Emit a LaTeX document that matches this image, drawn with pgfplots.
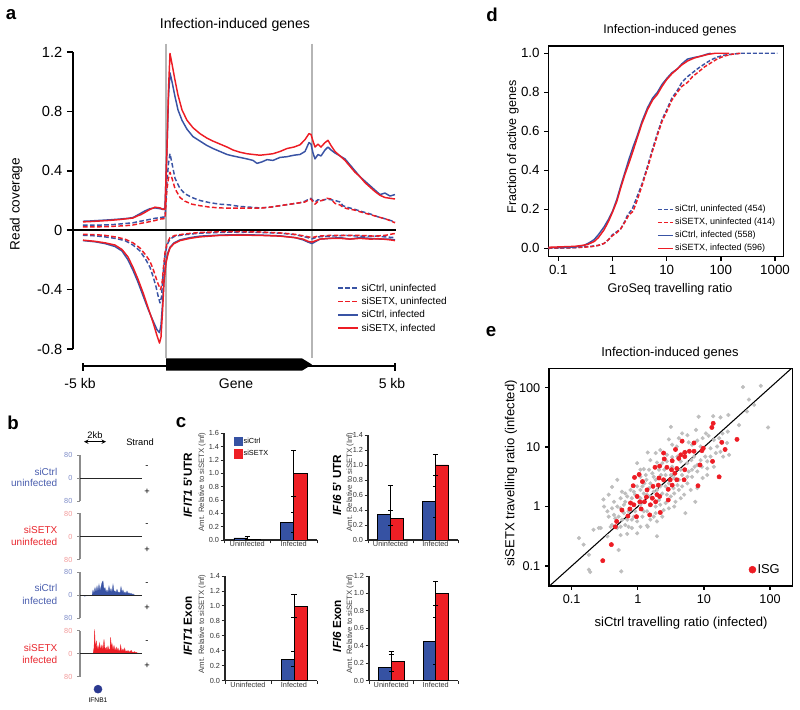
\documentclass[border=0pt]{standalone}
\usepackage{fontspec}
\setmainfont{Liberation Sans}
\usepackage{pgfplots}
\pgfplotsset{compat=1.18}
\pgfplotsset{/pgf/number format/assume math mode=true}
\definecolor{cblue}{HTML}{3953A4}
\definecolor{cred}{HTML}{ED1C24}
\definecolor{barblue}{HTML}{3652A3}
\definecolor{barred}{HTML}{EE1F25}
\definecolor{vgray}{HTML}{B5B5B5}
\definecolor{dotgray}{HTML}{BEBEBE}
\definecolor{lblue}{HTML}{7E8CC8}
\definecolor{lred}{HTML}{F29A9A}
\definecolor{tblue}{HTML}{4A5EAE}
\definecolor{tred}{HTML}{E8262D}
\definecolor{genebl}{HTML}{2B3990}
\newcommand{\fs}[1]{\fontsize{#1}{#1}\selectfont}
\pgfplotsset{
 pl/.style={line width=1.1pt, line join=round},
 dsh/.style={dash pattern=on 3.5pt off 1.8pt},
 eb/.style={error bars/y dir=both, error bars/y explicit, error bars/error bar style={black,line width=0.6pt}, error bars/error mark options={rotate=90,black,mark size=2pt,line width=0.6pt}},
 sq/.style={legend image code/.code={\fill[##1,draw=none] (0pt,-3.4pt) rectangle (6.8pt,3.4pt);}},
 bt/.style={scale only axis, width=46.5pt, height=34.5pt, xmin=80, xmax=142, ymin=-80, ymax=80,
   axis x line=none, axis y line=left, axis line style={-, black!45, line width=0.9pt},
   ytick={-80,0,80}, yticklabels={80,0,80}, tick align=outside, major tick length=2.2pt,
   tick style={black!45, line width=0.7pt}, clip=false},
 cb/.style={scale only axis, xmin=-0.5, xmax=1.5, ymin=0,
   axis x line*=bottom, axis y line*=left, axis line style={-, line width=0.8pt, black!85},
   xtick pos=left, ytick pos=left,
   xtick={-0.5,0.5,1.5}, xticklabels={,,}, extra x ticks={0,1}, extra x tick labels={Uninfected,Infected},
   extra x tick style={major tick length=0pt},
   tick align=outside, major tick length=2.5pt, tick style={black!85, line width=0.7pt},
   ticklabel style={font=\fs{5.5}, text=black!80, inner sep=1pt},
   yticklabel style={/pgf/number format/.cd, fixed, fixed zerofill, precision=1}},
 bb/.style={ybar, bar width=0.286, bar shift=-0.143, fill=barblue, draw=black, line width=0.5pt, eb, sq},
 br/.style={ybar, bar width=0.286, bar shift=0.143, fill=barred, draw=black, line width=0.5pt, eb, sq}
}
\begin{document}
\begin{tikzpicture}[x=0.75pt,y=0.75pt]
\path (0,0) rectangle (800,710);

% ---------------- panel letters and titles
\node[font=\fs{14}\bfseries] at (11,695) {a};
\node[font=\fs{14}\bfseries] at (13,287) {b};
\node[font=\fs{14}\bfseries] at (181,287) {c};
\node[font=\fs{14}\bfseries] at (492,695) {d};
\node[font=\fs{14}\bfseries] at (491,378) {e};
\node[font=\fs{10.6}] at (235,685) {Infection-induced genes};
\node[font=\fs{10.2},rotate=90] at (16,506) {Read coverage};

% ---------------- panel a
\begin{axis}[at={(54.75pt,270.75pt)}, anchor=south west, scale only axis, width=242.25pt, height=222.75pt,
  xmin=73, xmax=396, ymin=-0.8, ymax=1.2, axis x line=none, axis y line=left,
  axis line style={-,line width=1.1pt},
  ytick={-0.8,-0.4,0,0.4,0.8,1.2}, yticklabels={-0.8,-0.4,0,0.4,0.8,1.2},
  tick align=outside, major tick length=4.5pt, tick style={black,line width=1.1pt},
  yticklabel style={font=\fs{11}}, clip=false]
\draw[vgray,line width=1.1pt] (axis cs:166,1.257) -- (axis cs:166,-0.861);
\draw[vgray,line width=1.1pt] (axis cs:312,1.257) -- (axis cs:312,-0.861);
\draw[black,line width=1.1pt] (axis cs:73,0) -- (axis cs:396,0);
% sense strand
\addplot[pl,dsh,color=cblue] coordinates {(83,0.034) (95,0.034) (110,0.036) (125,0.045) (133,0.05) (140,0.06) (148,0.07) (155,0.08) (160,0.085) (165,0.09) (167,0.33) (168.5,0.45) (170,0.515) (172,0.45) (175,0.35) (180,0.28) (185,0.245) (192,0.22) (200,0.2) (210,0.185) (220,0.175) (230,0.17) (240,0.16) (250,0.155) (260,0.15) (270,0.155) (280,0.165) (290,0.175) (300,0.185) (305,0.195) (309,0.21) (311,0.215) (313,0.2) (315,0.19) (318,0.205) (322,0.2) (327,0.21) (331,0.205) (335,0.2) (340,0.19) (343,0.165) (347,0.155) (355,0.14) (362,0.125) (370,0.11) (378,0.09) (386,0.075) (395,0.056)};
\addplot[pl,dsh,color=cred] coordinates {(83,0.022) (95,0.022) (110,0.025) (125,0.03) (133,0.035) (140,0.045) (148,0.055) (155,0.065) (160,0.075) (165,0.078) (167,0.28) (168.5,0.35) (170,0.39) (172,0.35) (175,0.28) (180,0.22) (185,0.195) (192,0.175) (200,0.165) (210,0.155) (220,0.15) (230,0.148) (240,0.148) (250,0.148) (260,0.148) (270,0.155) (280,0.165) (290,0.175) (300,0.185) (305,0.19) (309,0.205) (311,0.21) (313,0.19) (315,0.175) (318,0.195) (322,0.2) (327,0.215) (331,0.21) (335,0.18) (340,0.17) (343,0.155) (347,0.145) (355,0.135) (362,0.12) (370,0.105) (378,0.09) (386,0.075) (395,0.05)};
\addplot[pl,color=cblue] coordinates {(83,0.06) (90,0.062) (100,0.066) (110,0.07) (120,0.075) (128,0.08) (133,0.085) (137,0.1) (141,0.115) (145,0.13) (150,0.145) (155,0.15) (160,0.145) (163,0.14) (165,0.15) (167,0.55) (168.5,0.9) (170,1.06) (172,1.0) (175,0.9) (178,0.81) (182,0.74) (187,0.68) (193,0.63) (200,0.6) (207,0.57) (213,0.55) (220,0.53) (227,0.51) (233,0.5) (240,0.49) (247,0.48) (253,0.47) (257,0.45) (262,0.46) (267,0.475) (273,0.47) (280,0.49) (287,0.495) (294,0.505) (300,0.51) (305,0.53) (309,0.59) (311,0.58) (313,0.52) (315,0.48) (318,0.51) (321,0.5) (325,0.54) (328,0.56) (331,0.54) (335,0.52) (340,0.5) (345,0.48) (350,0.44) (355,0.4) (360,0.36) (365,0.33) (370,0.3) (375,0.27) (380,0.24) (385,0.25) (390,0.23) (395,0.24)};
\addplot[pl,color=cred] coordinates {(83,0.056) (90,0.058) (100,0.062) (110,0.066) (120,0.072) (128,0.078) (133,0.082) (137,0.095) (141,0.105) (145,0.12) (150,0.14) (155,0.155) (160,0.15) (163,0.14) (165,0.14) (167,0.55) (168.5,0.95) (170,1.19) (172,1.12) (175,1.01) (178,0.91) (182,0.81) (187,0.74) (193,0.69) (200,0.65) (207,0.62) (213,0.6) (220,0.58) (227,0.56) (233,0.54) (240,0.525) (247,0.515) (253,0.51) (260,0.505) (267,0.51) (273,0.515) (280,0.53) (287,0.55) (294,0.56) (300,0.575) (305,0.61) (309,0.65) (311,0.645) (313,0.6) (315,0.56) (318,0.58) (321,0.56) (325,0.59) (328,0.605) (331,0.57) (335,0.53) (340,0.5) (345,0.47) (350,0.43) (355,0.39) (360,0.36) (365,0.32) (370,0.29) (375,0.26) (380,0.235) (385,0.22) (390,0.215) (395,0.21)};
% antisense strand
\addplot[pl,dsh,color=cblue] coordinates {(83,-0.034) (95,-0.038) (105,-0.045) (115,-0.055) (125,-0.07) (133,-0.1) (140,-0.14) (146,-0.2) (150,-0.25) (153,-0.31) (156,-0.38) (158,-0.44) (160,-0.49) (161.5,-0.45) (163,-0.3) (165,-0.17) (167,-0.1) (170,-0.06) (175,-0.04) (185,-0.03) (200,-0.02) (220,-0.015) (240,-0.012) (260,-0.015) (280,-0.02) (295,-0.03) (305,-0.045) (312,-0.058) (318,-0.045) (330,-0.04) (345,-0.035) (360,-0.04) (375,-0.04) (385,-0.045) (395,-0.05)};
\addplot[pl,dsh,color=cred] coordinates {(83,-0.028) (95,-0.03) (105,-0.035) (115,-0.045) (125,-0.06) (133,-0.085) (140,-0.12) (146,-0.17) (150,-0.21) (153,-0.26) (156,-0.32) (158,-0.36) (160.5,-0.4) (162,-0.36) (163.5,-0.25) (165,-0.15) (167,-0.09) (170,-0.05) (175,-0.035) (185,-0.025) (200,-0.015) (220,-0.01) (240,-0.01) (260,-0.012) (280,-0.018) (295,-0.028) (305,-0.04) (312,-0.05) (318,-0.04) (330,-0.035) (345,-0.035) (360,-0.035) (375,-0.04) (385,-0.035) (395,-0.022)};
\addplot[pl,color=cblue] coordinates {(83,-0.07) (95,-0.078) (105,-0.09) (115,-0.11) (122,-0.14) (128,-0.2) (133,-0.27) (138,-0.35) (143,-0.44) (148,-0.53) (153,-0.61) (157,-0.67) (159.5,-0.69) (161,-0.64) (162.5,-0.5) (164,-0.33) (166,-0.21) (168,-0.15) (170,-0.115) (174,-0.085) (180,-0.065) (190,-0.05) (200,-0.04) (220,-0.033) (240,-0.03) (260,-0.033) (280,-0.038) (295,-0.05) (303,-0.065) (308,-0.08) (312,-0.09) (316,-0.075) (320,-0.06) (330,-0.055) (340,-0.05) (350,-0.06) (360,-0.05) (370,-0.055) (380,-0.06) (390,-0.06) (395,-0.065)};
\addplot[pl,color=cred] coordinates {(83,-0.067) (95,-0.075) (105,-0.085) (115,-0.1) (122,-0.13) (128,-0.18) (133,-0.25) (138,-0.33) (143,-0.42) (148,-0.52) (153,-0.62) (157,-0.71) (159.5,-0.76) (161,-0.72) (162.5,-0.55) (164,-0.35) (166,-0.22) (168,-0.16) (170,-0.12) (174,-0.09) (180,-0.07) (190,-0.055) (200,-0.045) (220,-0.035) (240,-0.033) (260,-0.035) (280,-0.04) (295,-0.05) (303,-0.06) (308,-0.075) (312,-0.08) (316,-0.07) (320,-0.06) (330,-0.055) (340,-0.055) (350,-0.06) (360,-0.055) (370,-0.06) (380,-0.058) (390,-0.065) (395,-0.07)};
% legend of panel a
\draw[cblue,line width=1.1pt,dash pattern=on 3.5pt off 1.8pt] (axis cs:338,-0.390) -- (axis cs:358,-0.390);
\draw[cred,line width=1.1pt,dash pattern=on 3.5pt off 1.8pt] (axis cs:338,-0.481) -- (axis cs:358,-0.481);
\draw[cblue,line width=1.1pt] (axis cs:338,-0.571) -- (axis cs:358,-0.571);
\draw[cred,line width=1.1pt] (axis cs:338,-0.659) -- (axis cs:358,-0.659);
\node[anchor=west,font=\fs{7.5},inner sep=1pt] at (axis cs:360,-0.390) {siCtrl, uninfected};
\node[anchor=west,font=\fs{7.5},inner sep=1pt] at (axis cs:360,-0.481) {siSETX, uninfected};
\node[anchor=west,font=\fs{7.5},inner sep=1pt] at (axis cs:360,-0.571) {siCtrl, infected};
\node[anchor=west,font=\fs{7.5},inner sep=1pt] at (axis cs:360,-0.659) {siSETX, infected};
% gene diagram
\draw[black,line width=1.1pt] (axis cs:83,-0.914) -- (axis cs:395,-0.914);
\draw[black,line width=1.1pt] (axis cs:83,-0.895) -- (axis cs:83,-0.945);
\draw[black,line width=1.1pt] (axis cs:395,-0.895) -- (axis cs:395,-0.945);
\fill[black] (axis cs:166,-0.863) -- (axis cs:302,-0.863) -- (axis cs:312,-0.905) -- (axis cs:302,-0.946) -- (axis cs:166,-0.946) -- cycle;
\node[font=\fs{10.5}] at (axis cs:80,-1.035) {-5 kb};
\node[font=\fs{10.5}] at (axis cs:236,-1.035) {Gene};
\node[font=\fs{10.5}] at (axis cs:392,-1.035) {5 kb};
\end{axis}

% ---------------- panel b
\node[font=\fs{7}] at (95,275) {2kb};
\draw[<->,>=stealth,line width=0.5pt] (84,268.3) -- (106,268.3);
\node[font=\fs{7}] at (140,268.3) {Strand};
\node[anchor=east,align=right,font=\fontsize{7.5}{8.7}\selectfont,text=tblue] at (62,232.5) {siCtrl\\uninfected};
\node[anchor=east,align=right,font=\fontsize{7.5}{8.7}\selectfont,text=tred] at (62,174) {siSETX\\uninfected};
\node[anchor=east,align=right,font=\fontsize{7.5}{9.5}\selectfont,text=tblue] at (62,115.5) {siCtrl\\infected};
\node[anchor=east,align=right,font=\fontsize{7.5}{9}\selectfont,text=tred] at (62,56) {siSETX\\infected};
\foreach \ym/\yp in {243.3/218.3, 185/160, 125.7/101.7, 68.3/44}{
  \node[font=\fs{7}] at (147,\ym) {-};
  \node[font=\fs{7}] at (147,\yp) {+};
}
\begin{axis}[bt, at={(60pt,156.75pt)}, anchor=south west, yticklabel style={font=\fs{5.5},text=lblue}]
\addplot[black!85,line width=0.7pt] coordinates {(80,0) (142,0)};
\end{axis}
\begin{axis}[bt, at={(60pt,112.875pt)}, anchor=south west, yticklabel style={font=\fs{5.5},text=lred}]
\addplot[black!85,line width=0.7pt] coordinates {(80,0) (142,0)};
\end{axis}
\begin{axis}[bt, at={(60pt,68.775pt)}, anchor=south west, yticklabel style={font=\fs{5.5},text=lblue}]
\addplot[fill=cblue,draw=cblue,line width=0.2pt] coordinates {(83,0) (84.5,-3) (86,-2) (87.5,0) (92,0) (93,18) (94,6) (95,27) (96,10) (97,32) (98,12) (99,38) (100,15) (101,30) (102,44) (103,50) (104,20) (105,27) (106,10) (107,19) (108,8) (109,32) (110,12) (111,23) (112,9) (113,38) (114,14) (115,15) (116,8) (117,21) (118,9) (119,12) (120,6) (121,30) (122,10) (123,19) (124,6) (125,12) (126,5) (127,15) (128,6) (129,9) (130,4) (131,7) (132,3) (133,5) (134,2) (135,0)} \closedcycle;
\addplot[black!85,line width=0.7pt] coordinates {(80,0) (142,0)};
\end{axis}
\begin{axis}[bt, at={(60pt,24.9pt)}, anchor=south west, yticklabel style={font=\fs{5.5},text=lred}]
\addplot[fill=cred,draw=cred,line width=0.2pt] coordinates {(93,0) (94,20) (94.7,85) (95.3,15) (96.3,46) (97,14) (98,29) (98.8,12) (99.7,38) (100.5,14) (101.2,22) (102,31) (103,12) (104,50) (105,14) (106.3,23) (107,10) (108,27) (109,12) (110,18) (110.7,58) (111.4,16) (112,35) (113,12) (114,29) (115,10) (116.3,23) (117,9) (118,20) (119,8) (120,14) (120.7,31) (121.5,9) (122.3,12) (123,17) (124,8) (124.7,20) (125.5,7) (126.5,10) (127.3,6) (128,12) (129,6) (130,8) (131.3,12) (132,5) (133,7) (134,4) (134.7,8) (135.5,4) (136.5,5) (137.3,2) (138,3) (139,1) (140,0)} \closedcycle;
\addplot[black!85,line width=0.7pt] coordinates {(80,0) (142,0)};
\addplot[only marks, mark=*, mark size=3pt, genebl] coordinates {(98,-123)};
\end{axis}
\node[font=\fs{5}] at (98,10) {IFNB1};

% ---------------- panel c
\node[rotate=90,font=\fs{5.8},text=black!75] at (202,228) {Amt. Relative to siSETX (Inf)};
\node[rotate=90,font=\fs{8.8}\bfseries] at (188,225) {\textit{IFIT1} 5'UTR};
\node[rotate=90,font=\fs{5.8},text=black!75] at (350,228) {Amt. Relative to siSETX (Inf)};
\node[rotate=90,font=\fs{8.8}\bfseries] at (337,225) {\textit{IFI6} 5' UTR};
\node[rotate=90,font=\fs{5.8},text=black!75] at (202,86) {Amt. Relative to siSETX (Inf)};
\node[rotate=90,font=\fs{8.8}\bfseries] at (188,84) {\textit{IFIT1} Exon};
\node[rotate=90,font=\fs{5.8},text=black!75] at (350,86) {Amt. Relative to siSETX (Inf)};
\node[rotate=90,font=\fs{8.8}\bfseries] at (337,84) {\textit{IFI6} Exon};

\begin{axis}[cb, at={(168pt,127.5pt)}, anchor=south west, width=69.75pt, height=79.9pt, ymax=1.6,
  ytick={0,0.2,0.4,0.6,0.8,1.0,1.2,1.4,1.6},
  legend cell align=left,
  legend style={at={(rel axis cs:0.1,0.975)}, anchor=north west, draw=none, fill=none, font=\fs{5.5},
   row sep=2.4pt, inner sep=0pt, nodes={inner sep=0.8pt, text height=4.3pt, text depth=1.3pt}}]
\addplot[bb] coordinates {(0,0.03) +- (0,0.02) (1,0.27) +- (0,0.15)};
\addlegendentry{siCtrl}
\addplot[br] coordinates {(0,0.005) +- (0,0.0) (1,1.0) +- (0,0.34)};
\addlegendentry{siSETX}
\end{axis}
\begin{axis}[cb, at={(276pt,127.5pt)}, anchor=south west, width=67.5pt, height=78.75pt, ymax=1.4,
  ytick={0,0.2,0.4,0.6,0.8,1.0,1.2,1.4}]
\addplot[bb] coordinates {(0,0.34) += (0,0.39) -= (0,0.34) (1,0.51) +- (0,0.21)};
\addplot[br] coordinates {(0,0.29) +- (0,0.1) (1,1.0) +- (0,0.14)};
\end{axis}
\begin{axis}[cb, at={(168.75pt,21.975pt)}, anchor=south west, width=69pt, height=78.5pt, ymax=1.4,
  ytick={0,0.2,0.4,0.6,0.8,1.0,1.2,1.4}]
\addplot[bb] coordinates {(1,0.29) +- (0,0.1)};
\addplot[br] coordinates {(1,1.0) +- (0,0.16)};
\end{axis}
\begin{axis}[cb, at={(276.75pt,21.975pt)}, anchor=south west, width=66.75pt, height=78.5pt, ymax=1.2,
  ytick={0,0.2,0.4,0.6,0.8,1.0,1.2}]
\addplot[bb] coordinates {(0,0.15) +- (0,0.15) (1,0.45) += (0,0.27) -= (0,0.26)};
\addplot[br] coordinates {(0,0.22) +- (0,0.115) (1,1.0) +- (0,0.135)};
\end{axis}

% ---------------- panel d
\node[font=\fs{9.4}] at (670,680) {Infection-induced genes};
\node[font=\fs{9.4},rotate=90] at (513,563) {Fraction of active genes};
\node[font=\fs{9.4}] at (670,421) {GroSeq travelling ratio};
\begin{axis}[at={(411.225pt,339.975pt)}, anchor=south west, scale only axis, width=176.25pt, height=158pt,
  xmode=log, xmin=0.0653, xmax=1423, ymin=-0.043, ymax=1.037,
  xtick={0.1,1,10,100,1000}, xticklabels={0.1,1,10,100,1000}, xminorticks=false,
  ytick={0,0.2,0.4,0.6,0.8,1}, yticklabels={0.0,0.2,0.4,0.6,0.8,1.0},
  xtick pos=left, ytick pos=left, tick align=outside, major tick length=3pt,
  axis line style={line width=1.1pt}, tick style={black,line width=1pt},
  ticklabel style={font=\fs{10}},
  legend cell align=left,
  legend style={at={(rel axis cs:0.462,0.25)}, anchor=north west, draw=none, fill=none, font=\fs{6.75},
    row sep=1.9pt, inner sep=0pt, nodes={inner sep=0.8pt, text height=4.8pt, text depth=1.4pt}},
  legend image code/.code={\draw[#1] (0pt,0pt) -- (11.5pt,0pt);}]
\addplot[pl,color=cblue,dash pattern=on 3pt off 1.5pt] coordinates {(0.0653,0.0) (0.2,0.003) (0.4,0.01) (0.55,0.015) (0.7,0.025) (0.85,0.045) (1.0,0.07) (1.2,0.085) (1.42,0.1) (1.7,0.14) (1.89,0.17) (2.3,0.2) (2.89,0.27) (3.5,0.33) (4.42,0.42) (5.5,0.51) (6.76,0.59) (8.2,0.66) (10,0.71) (12.5,0.77) (15.8,0.81) (19,0.85) (24.2,0.88) (30,0.9) (37,0.92) (50,0.945) (65,0.965) (85,0.98) (114,0.99) (160,0.995) (233,1.0) (1100,1.0)};
\addlegendentry{siCtrl, uninfected (454)}
\addplot[pl,color=cred,dash pattern=on 3pt off 1.5pt] coordinates {(0.0653,0.0) (0.2,0.003) (0.4,0.008) (0.55,0.015) (0.7,0.025) (0.85,0.045) (1.0,0.065) (1.2,0.08) (1.42,0.1) (1.7,0.135) (2.0,0.17) (2.4,0.19) (2.89,0.25) (3.5,0.32) (4.42,0.41) (5.5,0.5) (6.76,0.58) (8.2,0.65) (10,0.7) (12.5,0.76) (15.8,0.8) (19,0.83) (24.2,0.85) (30,0.88) (37,0.9) (50,0.93) (65,0.95) (85,0.97) (114,0.985) (160,0.995) (233,1.0)};
\addlegendentry{siSETX, uninfected (414)}
\addplot[pl,color=cblue] coordinates {(0.0653,0.003) (0.1,0.003) (0.2,0.006) (0.3,0.015) (0.38,0.03) (0.46,0.045) (0.55,0.07) (0.7,0.11) (0.85,0.15) (1.0,0.19) (1.2,0.25) (1.42,0.32) (1.7,0.39) (2.03,0.46) (2.4,0.52) (2.89,0.58) (3.5,0.65) (4.42,0.72) (5.5,0.77) (6.76,0.8) (8.2,0.84) (10,0.87) (12.5,0.9) (15.8,0.92) (19,0.945) (24.2,0.97) (32,0.978) (42.6,0.985) (55,0.995) (65,1.0)};
\addlegendentry{siCtrl, infected (558)}
\addplot[pl,color=cred] coordinates {(0.0653,0.005) (0.1,0.007) (0.2,0.01) (0.28,0.015) (0.35,0.02) (0.46,0.035) (0.55,0.055) (0.7,0.095) (0.85,0.14) (1.0,0.185) (1.2,0.24) (1.42,0.31) (1.7,0.38) (2.03,0.44) (2.4,0.5) (2.89,0.57) (3.5,0.64) (4.42,0.71) (5.5,0.76) (6.76,0.79) (8.2,0.83) (10,0.865) (12.5,0.895) (15.8,0.92) (19,0.94) (24.2,0.96) (32,0.975) (42.6,0.985) (60,0.995) (80,1.0) (142,1.0)};
\addlegendentry{siSETX, infected (596)}
\end{axis}

% ---------------- panel e
\node[font=\fs{9.7}] at (670,357) {Infection-induced genes};
\node[font=\fs{9.8},rotate=90] at (511,236.5) {siSETX travelling ratio (infected)};
\node[font=\fs{9.8}] at (681,87.3) {siCtrl travelling ratio (infected)};
\begin{axis}[at={(411.75pt,93pt)}, anchor=south west, scale only axis, width=182.5pt, height=163.3pt,
  xmin=-1.343, xmax=2.337, ymin=-1.336, ymax=2.326,
  xtick={-1,0,1,2}, xticklabels={0.1,1,10,100}, ytick={-1,0,1,2}, yticklabels={0.1,1,10,100},
  xtick pos=left, ytick pos=left, tick align=outside, major tick length=3pt,
  axis line style={line width=1.1pt}, tick style={black,line width=1pt},
  ticklabel style={font=\fs{9.5}},
  legend style={at={(rel axis cs:0.955,0.073)}, anchor=east, draw=none, fill=none, font=\fs{9.7}, inner sep=0pt, nodes={inner sep=1pt}},
  legend image code/.code={\fill[cred] (0.15cm,0) circle (2.6pt);}]
\addplot[only marks, mark=*, mark size=1.35pt, dotgray, forget plot] coordinates {
(1.59,2.01) (1.86,2.03) (1.68,1.80) (1.76,1.71) (1.65,1.60) (1.53,1.37) (1.97,1.33) (1.37,1.54) (1.25,1.50) (1.14,1.52) (0.92,1.51) (1.36,1.26) (1.28,1.23) (1.23,1.15) (1.35,1.07) (1.38,0.87) (1.29,0.84) (1.15,1.12) (1.07,1.19) (1.03,1.23) (0.98,1.15) (0.90,1.11) (0.82,1.04) (0.88,1.29) (0.75,1.20) (0.77,1.08) (0.67,1.23) (0.62,1.15) (0.50,1.34) (0.47,1.13) (0.52,1.04) (0.59,1.01) (0.34,0.95) (0.27,0.90) (0.15,0.91) (0.19,0.78) (0.29,0.74) (0.37,0.73) (0.44,0.76) (0.52,0.83) (0.65,0.76) (0.75,0.73) (0.81,0.78) (0.86,0.67) (0.90,0.59) (0.77,0.59) (0.82,0.50) (0.98,0.48) (1.05,0.64) (1.10,0.84) (1.18,0.90) (1.05,0.76) (0.95,0.78) (-0.01,0.73) (0.04,0.62) (0.09,0.63) (0.17,0.62) (0.22,0.56) (0.12,0.53) (0.13,0.45) (0.19,0.39) (0.27,0.45) (0.35,0.53) (0.42,0.53) (0.50,0.53) (0.55,0.48) (0.62,0.45) (0.67,0.53) (0.75,0.39) (0.62,0.28) (0.55,0.22) (0.44,0.20) (0.37,0.22) (0.29,0.28) (0.24,0.25) (0.17,0.31) (0.07,0.34) (-0.01,0.34) (-0.11,0.28) (-0.19,0.22) (-0.24,0.25) (-0.31,0.45) (-0.39,0.33) (-0.44,0.20) (-0.26,0.14) (-0.19,0.08) (-0.09,0.14) (-0.04,0.20) (0.09,0.22) (0.04,0.14) (0.14,0.20) (0.22,0.14) (0.27,0.00) (0.32,0.11) (0.34,0.03) (0.42,0.06) (0.50,0.17) (0.57,0.08) (0.65,0.14) (0.70,0.20) (0.87,0.08) (0.72,-0.11) (0.55,0.00) (0.47,-0.03) (0.39,-0.06) (0.27,-0.11) (0.24,-0.17) (0.09,-0.08) (0.07,-0.17) (-0.01,-0.25) (-0.09,-0.22) (-0.16,-0.22) (-0.21,-0.11) (-0.26,-0.03) (-0.31,0.00) (-0.39,-0.03) (-0.46,-0.08) (-0.51,0.00) (-0.52,0.12) (-0.44,-0.17) (-0.36,-0.14) (-0.29,-0.17) (-0.34,-0.20) (-0.39,-0.31) (-0.26,-0.34) (-0.19,-0.31) (-0.14,-0.34) (-0.09,-0.36) (0.04,-0.34) (0.14,-0.32) (-0.01,-0.45) (-0.16,-0.46) (-0.26,-0.48) (-0.46,-0.50) (-0.56,-0.36) (-0.67,-0.39) (-0.59,-0.36) (-0.82,-0.64) (-0.89,-0.53) (-0.74,-0.81) (-0.74,-1.06) (-0.72,-1.10) (-0.25,-1.09) (-0.29,-0.73) (0.29,-0.50) (0.15,-0.34)
(0.04,0.50) (0.10,0.39) (0.24,0.50) (0.32,0.62) (0.40,0.62) (0.47,0.39) (0.54,0.31) (0.60,0.36) (0.67,0.34) (0.75,0.50) (0.82,0.62) (0.90,0.70) (0.97,0.67) (1.02,0.84) (1.10,0.98) (1.20,1.01) (0.95,1.01) (0.85,0.84) (0.72,0.92) (0.60,0.84) (0.44,0.87) (0.52,0.67) (0.34,0.34) (0.19,0.17) (0.04,0.03) (-0.04,-0.08) (-0.14,-0.08) (-0.21,0.03) (-0.16,0.17) (-0.06,0.25) (0.04,0.28) (0.14,-0.08) (0.19,-0.22) (-0.06,-0.17) (-0.24,-0.22) (-0.31,-0.36) (-0.41,-0.34) (-0.36,0.08) (0.42,0.34) (0.65,0.62) (1.05,0.53) (1.15,0.67) (1.25,0.92) (0.90,0.31) (0.80,0.28) (0.29,-0.25) (0.37,-0.17)};
\addplot[black, line width=0.8pt, forget plot] coordinates {(-1.343,-1.343) (2.337,2.337)};
\addplot[only marks, mark=*, mark size=1.6pt, cred] coordinates {
(1.14,1.40) (1.12,1.33) (1.27,1.08) (1.50,1.13) (1.32,0.96) (0.67,1.10) (0.85,1.07) (0.78,0.93) (0.71,0.91) (0.65,0.87) (0.57,0.96) (0.39,0.90) (0.40,0.80) (0.52,0.77) (0.62,0.81) (0.99,0.98) (0.97,0.94) (0.94,0.70) (1.13,0.76) (1.23,0.50) (0.91,0.35) (0.71,0.62) (0.59,0.64) (0.51,0.62) (0.44,0.66) (0.33,0.68) (0.26,0.66) (0.02,0.54) (-0.05,0.49) (0.07,0.42) (-0.07,0.35) (0.32,0.48) (0.39,0.45) (0.49,0.45) (0.59,0.45) (0.31,0.36) (0.23,0.34) (0.14,0.28) (0.46,0.29) (0.52,0.36) (0.29,0.20) (0.33,0.17) (0.13,0.16) (-0.01,0.17) (0.03,0.08) (-0.11,0.06) (-0.06,0.03) (0.19,0.03) (0.27,0.08) (0.46,0.11) (-0.12,-0.04) (-0.24,-0.06) (0.05,-0.04) (-0.15,-0.16) (-0.02,-0.17) (0.18,-0.14) (0.34,-0.10) (-0.32,-0.25) (-0.34,-0.34) (-0.40,-0.64) (-0.53,-0.91) (0.22,0.14) (0.10,0.08) (0.71,0.84) (0.85,0.93) (0.56,0.56) (0.70,0.45)};
\addlegendentry{ISG}
\end{axis}
\end{tikzpicture}
\end{document}
